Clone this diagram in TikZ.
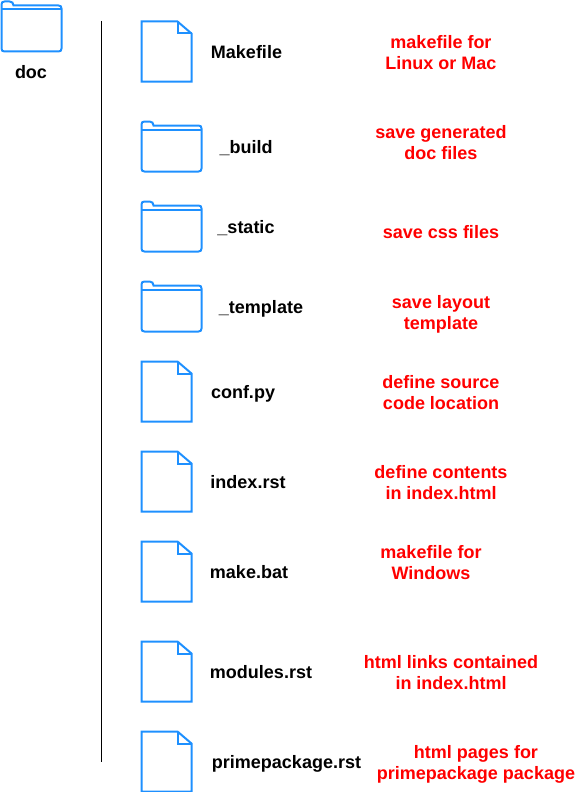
\documentclass[tikz,border=0pt]{standalone}
\usepackage{fontspec}
\setmainfont{Liberation Sans}
\tikzset{
  x=1pt,y=-1pt,
  icon/.style={draw=iconblue,line width=2pt,line join=miter},
  lab/.style={font=\fontsize{18}{21}\selectfont\bfseries,text=black,inner sep=0pt,anchor=base},
  note/.style={font=\fontsize{18}{21}\selectfont\bfseries,text=red,inner sep=0pt,align=center},
  fileicon/.pic={
    \draw[icon] (0,0) -- (36,0) -- (50,12) -- (50,60) -- (0,60) -- cycle;
    \draw[icon] (36,0) -- (36,12) -- (50,12);
  },
  foldericon/.pic={
    \draw[icon] (0,8) -- (0,3) .. controls (0,1) and (1,0) .. (3,0) -- (8,0)
      .. controls (10.5,0) and (12,1.5) .. (12,4) -- (57,4)
      .. controls (59,4) and (60,5) .. (60,7) -- (60,47)
      .. controls (60,49) and (59,50) .. (57,50) -- (3,50)
      .. controls (1,50) and (0,49) .. (0,47) -- cycle;
    \draw[icon] (0,8) -- (60,8);
  }
}
\definecolor{iconblue}{RGB}{30,144,255}
\begin{document}
\begin{tikzpicture}
\useasboundingbox (0,0) rectangle (582,792);
\coordinate (ltop) at (101.5,21);
\coordinate (lbot) at (101.5,762);
\draw[black,line width=0.9pt] (ltop) -- (lbot);
\pic at (1.5,1.5) {foldericon};
\pic at (141.5,21.5) {fileicon};
\pic at (141.5,121.5) {foldericon};
\pic at (141.5,201.5) {foldericon};
\pic at (141.5,281.5) {foldericon};
\pic at (141.5,361.5) {fileicon};
\pic at (141.5,451.5) {fileicon};
\pic at (141.5,541.5) {fileicon};
\pic at (141.5,641.5) {fileicon};
\pic at (141.5,731.5) {fileicon};
\node[lab] (ndoc) at (31,78) {doc};
\node[lab] (n1) at (246.5,58.5) {Makefile};
\node[lab] (n2) at (246,153) {\_build};
\node[lab] (n3) at (246,233) {\_static};
\node[lab] (n4) at (261,313) {\_template};
\node[lab] (n5) at (243,398) {conf.py};
\node[lab] (n6) at (248,488) {index.rst};
\node[lab] (n7) at (249,578) {make.bat};
\node[lab] (n8) at (261,678) {modules.rst};
\node[lab] (n9) at (286.5,768) {primepackage.rst};
\node[note] (m1) at (441,52.5) {makefile for\\Linux or Mac};
\node[note] (m2) at (441,142.5) {save generated\\doc files};
\node[note] (m3) at (441,232.5) {save css files};
\node[note] (m4) at (441,314) {save layout\\template};
\node[note] (m5) at (441,392.5) {define source\\code location};
\node[note] (m6) at (441,482.5) {define contents\\in index.html};
\node[note] (m7) at (431,562.5) {makefile for\\Windows};
\node[note] (m8) at (451,672.5) {html links contained\\in index.html};
\node[note] (m9) at (476,764) {html pages for\\primepackage package};
\end{tikzpicture}
\end{document}
